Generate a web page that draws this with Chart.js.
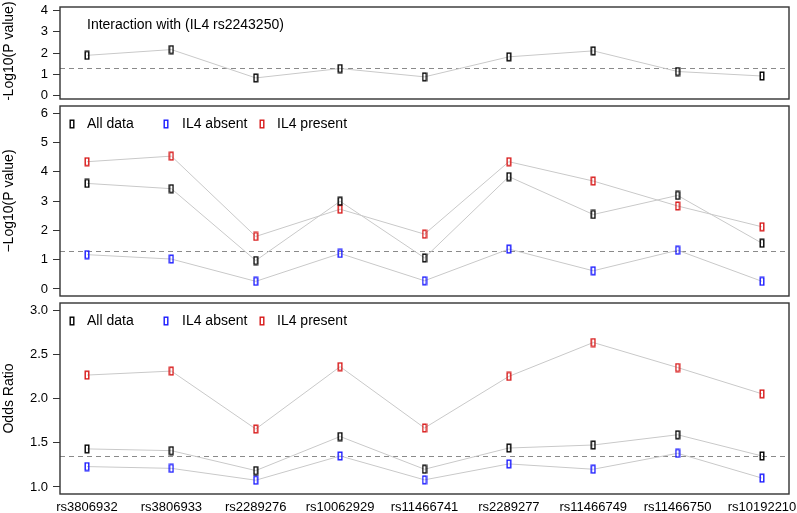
<!DOCTYPE html>
<html lang="en">

  <head>
    <meta charset="UTF-8">
    <title>SNP interaction with IL4</title>
    <script src="https://cdn.jsdelivr.net/npm/chart.js@4.4.1/dist/chart.umd.min.js"></script>
    <style>
      body { margin: 0; background: #fff; }
      #wrap { position: relative; width: 797px; height: 513px; }
      canvas { position: absolute; left: 0; }
    </style>
  </head>

  <body>
    <div id="wrap">
      <canvas id="topPanel" width="797" height="100" style="top:0"></canvas>
      <canvas id="midPanel" width="797" height="197" style="top:100px"></canvas>
      <canvas id="orPanel" width="797" height="216" style="top:297px"></canvas>
    </div>

    <script>
      const snps = ['rs3806932', 'rs3806933', 'rs2289276', 'rs10062929', 'rs11466741',
        'rs2289277', 'rs11466749', 'rs11466750', 'rs10192210']

      // -log10(P) of the interaction term
      const interactionP = [1.89, 2.16, 0.83, 1.27, 0.88, 1.82, 2.10, 1.13, 0.92]

      // -log10(P) per stratum
      const allDataP = [3.60, 3.42, 0.97, 2.99, 1.06, 3.83, 2.54, 3.19, 1.56]
      const il4AbsentP = [1.17, 1.02, 0.26, 1.21, 0.28, 1.36, 0.62, 1.32, 0.26]
      const il4PresentP = [4.34, 4.53, 1.79, 2.72, 1.87, 4.34, 3.68, 2.83, 2.12]

      // odds ratios per stratum
      const allDataOR = [1.43, 1.41, 1.185, 1.57, 1.20, 1.44, 1.474, 1.59, 1.35]
      const il4AbsentOR = [1.23, 1.21, 1.076, 1.35, 1.08, 1.26, 1.20, 1.38, 1.10]
      const il4PresentOR = [2.265, 2.31, 1.655, 2.36, 1.667, 2.25, 2.633, 2.35, 2.053]

      const topTicks = [0, 1, 2, 3, 4]
      const midTicks = [0, 1, 2, 3, 4, 5, 6]
      const orTicks = [1.0, 1.5, 2.0, 2.5, 3.0]

      const pThreshold = 1.301 // -log10(0.05)
      const orThreshold = 1.35

      const FONT = '"Liberation Sans", Arial, Helvetica, sans-serif'
      const colors = { all: '#000000', absent: '#1a1aff', present: '#d81818' }

      function marker(color) {
        const c = document.createElement('canvas')
        c.width = 6
        c.height = 10
        const g = c.getContext('2d')
        g.strokeStyle = color
        g.lineWidth = 1.4
        g.strokeRect(1.2, 1.2, 3.6, 7.6)
        return c
      }

      function series(values, color) {
        return {
          data: values.map((y, i) => ({ x: i + 1, y })),
          borderColor: '#c9c9c9',
          borderWidth: 1,
          pointStyle: marker(color),
          pointRadius: 5,
          tension: 0,
        }
      }

      const framePlugin = {
        id: 'frame',
        beforeDatasetsDraw(chart, args, opts) {
          const { ctx, chartArea: a, scales } = chart
          const y = Math.round(scales.y.getPixelForValue(opts.threshold)) + 0.5
          ctx.save()
          ctx.strokeStyle = '#8a8a8a'
          ctx.lineWidth = 1
          ctx.setLineDash([5, 4])
          ctx.beginPath()
          ctx.moveTo(a.left, y)
          ctx.lineTo(a.right, y)
          ctx.stroke()
          ctx.restore()
        },
        afterDraw(chart, args, opts) {
          const { ctx, chartArea: a } = chart
          ctx.save()
          ctx.strokeStyle = '#333'
          ctx.lineWidth = 1.4
          ctx.strokeRect(a.left, a.top, a.width, a.height)
          ctx.font = '14px ' + FONT
          ctx.textBaseline = 'middle'
          ctx.fillStyle = '#000'
          const ly = a.top + 18
          for (const item of opts.legend) {
            if (item.color) {
              ctx.drawImage(marker(item.color), item.mx - 3, ly - 5)
            }
            ctx.fillText(item.text, item.tx, ly)
          }
          ctx.restore()
        }
      }

      const legendItems = [
        { text: 'All data', color: colors.all, mx: 72, tx: 87 },
        { text: 'IL4 absent', color: colors.absent, mx: 166, tx: 182 },
        { text: 'IL4 present', color: colors.present, mx: 262, tx: 277 },
      ]

      function makePanel(canvas, datasets, opts) {
        return new Chart(canvas, {
          type: 'line',
          data: { datasets },
          plugins: [framePlugin],
          options: {
            responsive: false,
            animation: false,
            devicePixelRatio: 1,
            layout: {
              autoPadding: false,
              padding: { top: opts.padTop, right: 8, bottom: opts.padBottom, left: 0 },
            },
            plugins: {
              legend: { display: false },
              tooltip: { enabled: false },
              frame: { threshold: opts.threshold, legend: opts.legend },
            },
            scales: {
              x: {
                type: 'linear',
                min: 0.68,
                max: 9.32,
                afterBuildTicks: scale => { scale.ticks = snps.map((s, i) => ({ value: i + 1 })) },
                afterFit: scale => {
                  scale.height = opts.showX ? 19 : 0
                  scale.paddingLeft = 0
                  scale.paddingRight = 0
                },
                grid: { display: false, drawTicks: false },
                border: { display: false },
                ticks: {
                  display: opts.showX,
                  autoSkip: false,
                  maxRotation: 0,
                  padding: 7,
                  color: '#000',
                  font: { family: FONT, size: 13, lineHeight: 1 },
                  callback: v => snps[v - 1],
                },
              },
              y: {
                min: opts.min,
                max: opts.max,
                afterBuildTicks: scale => { scale.ticks = opts.ticks.map(v => ({ value: v })) },
                afterFit: scale => {
                  scale.width = 60
                  scale.paddingTop = 0
                  scale.paddingBottom = 0
                },
                grid: { display: true, drawOnChartArea: false, drawTicks: true, tickLength: 7, color: '#333' },
                border: { display: false },
                ticks: {
                  padding: 5,
                  color: '#000',
                  font: { family: FONT, size: 13, lineHeight: 1 },
                  callback: v => opts.decimals ? v.toFixed(1) : String(v),
                },
                title: {
                  display: true,
                  text: opts.title,
                  color: '#000',
                  padding: { top: 1, bottom: 0 },
                  font: { family: FONT, size: 14 },
                },
              },
            },
          },
        })
      }

      makePanel(topPanel, [series(interactionP, colors.all)], {
        padTop: 7, padBottom: 1, showX: false,
        min: -0.16, max: 4.16, ticks: topTicks,
        title: '\u2212Log10(P value)', threshold: pThreshold,
        legend: [{ text: 'Interaction with (IL4 rs2243250)', tx: 87 }],
      })

      makePanel(midPanel, [
        series(allDataP, colors.all),
        series(il4AbsentP, colors.absent),
        series(il4PresentP, colors.present),
      ], {
        padTop: 6, padBottom: 1, showX: false,
        min: -0.24, max: 6.24, ticks: midTicks,
        title: '\u2212Log10(P value)', threshold: pThreshold,
        legend: legendItems,
      })

      makePanel(orPanel, [
        series(allDataOR, colors.all),
        series(il4AbsentOR, colors.absent),
        series(il4PresentOR, colors.present),
      ], {
        padTop: 6, padBottom: 0, showX: true,
        min: 0.92, max: 3.08, ticks: orTicks, decimals: true,
        title: 'Odds Ratio', threshold: orThreshold,
        legend: legendItems,
      })
    </script>
  </body>

</html>
